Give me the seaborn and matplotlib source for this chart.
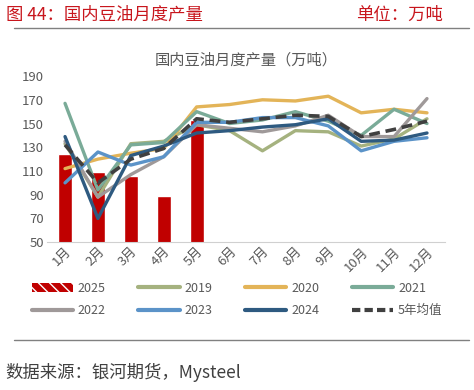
import pandas as pd
import matplotlib.pyplot as plt
import seaborn as sns
from matplotlib.patches import Patch
from matplotlib.lines import Line2D

# data
months = ['1月', '2月', '3月', '4月', '5月', '6月', '7月', '8月', '9月', '10月', '11月', '12月']
y2025 = [124, 109, 106, 89, 153]
y2019 = [133, 88, 133, 135, 149, 144, 127, 144, 143, 131, 137, 154]
y2020 = [112, 120, 125, 129, 164, 166, 170, 169, 173, 159, 162, 159]
y2021 = [167, 94, 132, 134, 160, 150, 153, 160, 152, 140, 162, 150]
y2022 = [135, 88, 107, 122, 149, 146, 143, 148, 157, 139, 139, 171]
y2023 = [100, 126, 115, 122, 151, 151, 155, 155, 148, 127, 135, 138]
y2024 = [139, 70, 123, 131, 142, 144, 147, 149, 154, 135, 136, 142]
avg5 = [132, 100, 120, 129, 154, 151, 154, 157, 156, 139, 145, 152]

sns.set_style('white')
plt.rcParams['font.family'] = ['Noto Sans CJK SC', 'DejaVu Sans']

fig = plt.figure(figsize=(4.74, 3.9), dpi=100)
ax = fig.add_axes([0.099, 0.379, 0.840, 0.426])

red = '#c00000'
series = [
    ('2019', y2019, '#a5b27f'),
    ('2020', y2020, '#e3b458'),
    ('2021', y2021, '#7aab98'),
    ('2022', y2022, '#9f9999'),
    ('2023', y2023, '#5b93c8'),
    ('2024', y2024, '#2e5a80'),
]

bars = pd.DataFrame({'month': months[:len(y2025)], 'value': y2025})
sns.barplot(data=bars, x='month', y='value', order=months, color=red,
            saturation=1, width=0.43, ax=ax, zorder=1)

for name, vals, col in series:
    df = pd.DataFrame({'month': months, 'value': vals})
    sns.lineplot(data=df, x='month', y='value', color=col, lw=2.4, ax=ax,
                 sort=False, zorder=2)
df = pd.DataFrame({'month': months, 'value': avg5})
sns.lineplot(data=df, x='month', y='value', color='#404040', lw=2.6, ax=ax,
             sort=False, zorder=3, dashes=False, linestyle=(0, (3, 1.6)))

ax.set_ylim(50, 190)
ax.set_yticks(range(50, 191, 20))
ax.set_xlim(-0.55, 11.55)
ax.set_xlabel('')
ax.set_ylabel('')
for s in ['top', 'right', 'left']:
    ax.spines[s].set_visible(False)
ax.spines['bottom'].set_color('#d0d0d0')
ax.tick_params(axis='both', colors='#595959', labelsize=9.5, length=0, pad=2)
plt.setp(ax.get_xticklabels(), rotation=45, ha='right', rotation_mode='anchor')

ax.set_title('国内豆油月度产量（万吨）', fontsize=11, color='#595959', pad=8)

# legend, row-major like the reference (matplotlib fills columns first)
handles = [Patch(facecolor=red, edgecolor='white', hatch='\\\\\\', lw=0)]
labels = ['2025']
for name, vals, col in series:
    handles.append(Line2D([], [], color=col, lw=3))
    labels.append(name)
handles.append(Line2D([], [], color='#404040', lw=3, linestyle=(0, (2, 1))))
labels.append('5年均值')
order = [0, 4, 1, 5, 2, 6, 3, 7]
fig.legend([handles[i] for i in order], [labels[i] for i in order], ncol=4,
           loc='center', bbox_to_anchor=(0.5, 0.232), frameon=False,
           fontsize=9, labelcolor='#595959', handlelength=3.3,
           columnspacing=2.6, handletextpad=0.4, borderaxespad=0,
           labelspacing=0.75, bbox_transform=fig.transFigure)

# header and footer
fig.text(0.012, 0.962, '图 44：国内豆油月度产量', color='#c8161d', fontsize=12.5,
         va='center', ha='left')
fig.text(0.935, 0.962, '单位：万吨', color='#c8161d', fontsize=12.5,
         va='center', ha='right')
fig.add_artist(Line2D([0.03, 0.99], [0.927, 0.927], color='#808080', lw=1))
fig.add_artist(Line2D([0.03, 0.99], [0.127, 0.127], color='#808080', lw=1))
fig.text(0.012, 0.045, '数据来源：银河期货，Mysteel', color='#404040',
         fontsize=12.5, va='center', ha='left')

fig.savefig('out.png', dpi=100)
